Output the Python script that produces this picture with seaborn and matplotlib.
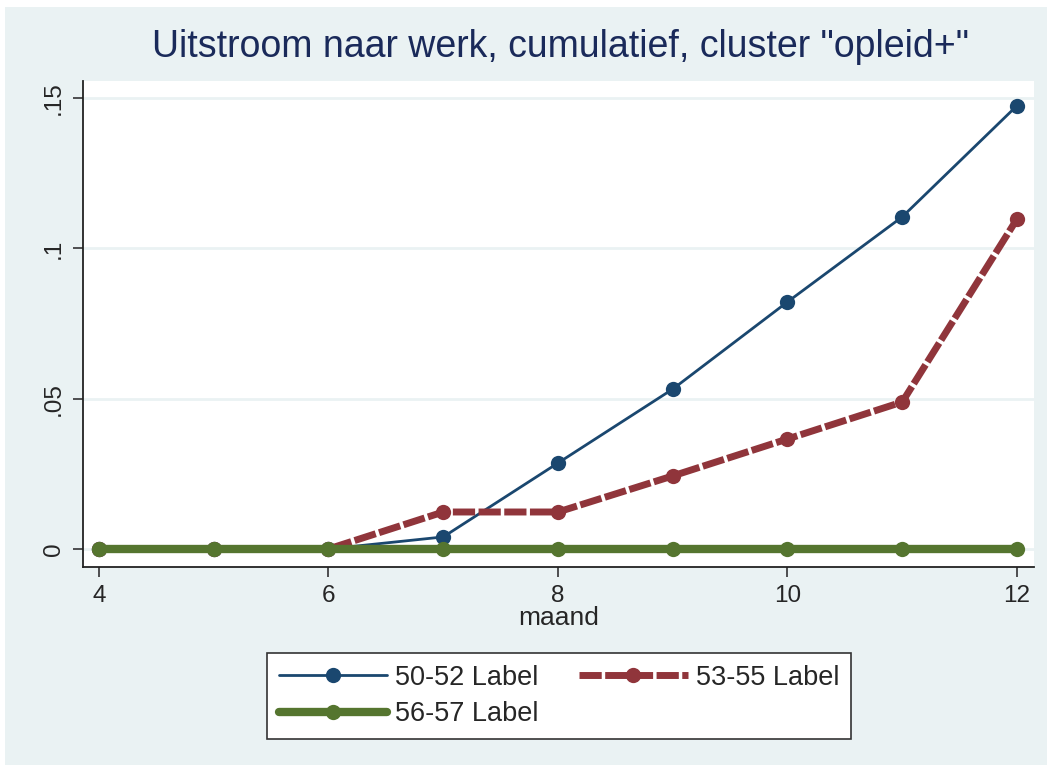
import numpy as np
import pandas as pd
import seaborn as sns
import matplotlib.pyplot as plt
from matplotlib.patches import Rectangle

# data
maand = [4, 5, 6, 7, 8, 9, 10, 11, 12]
s_50_52 = [0, 0, 0, 0.004, 0.0286, 0.0532, 0.0822, 0.1105, 0.1475]
s_53_55 = [0, 0, 0, 0.0123, 0.0123, 0.0243, 0.0366, 0.0489, 0.1098]
s_56_57 = [0, 0, 0, 0, 0, 0, 0, 0, 0]
labels = ["50-52 Label", "53-55 Label", "56-57 Label"]

sns.set_style("white")
plt.rcParams['font.family'] = ['Liberation Sans', 'DejaVu Sans']

bg = "#EAF2F3"
fig = plt.figure(figsize=(10.52, 7.71), dpi=100, facecolor="white")
fig.patches.append(Rectangle((5/1052, 1-765/771), 1042/1052, 758/771,
                             transform=fig.transFigure, facecolor=bg,
                             edgecolor="none", zorder=-1))
ax = fig.add_axes([83/1052, 1-567/771, 951/1052, 486/771])
ax.set_facecolor("white")

df = pd.DataFrame({"maand": maand, "a": s_50_52, "b": s_53_55, "c": s_56_57})

# drawn in stata order, last series on top
sns.lineplot(data=df, x="maand", y="a", ax=ax, color="#1A476F", lw=2,
             marker="o", markersize=11, markeredgewidth=0, label=labels[0], zorder=2)
sns.lineplot(data=df, x="maand", y="b", ax=ax, color="#90353B", lw=5,
             marker="o", markersize=11, markeredgewidth=0, label=labels[1], zorder=3)
sns.lineplot(data=df, x="maand", y="c", ax=ax, color="#55752F", lw=6,
             marker="o", markersize=11, markeredgewidth=0, label=labels[2], zorder=4)
ax.lines[1].set_dashes([3.2, 0.5])

ax.set_xlim(3.861, 12.148)
ax.set_ylim(-0.006, 0.1557)
ax.set_xticks([4, 6, 8, 10, 12])
ax.set_yticks([0, 0.05, 0.1, 0.15])
ax.set_yticklabels(["0", ".05", ".1", ".15"], rotation=90, va="center")
ax.grid(axis="y", color=bg, lw=2)
ax.set_axisbelow(True)
ax.tick_params(axis="both", direction="out", length=7, width=1.2, color="#333333",
               labelsize=17.5, pad=6, left=True, bottom=True)
for s in ["top", "right"]:
    ax.spines[s].set_visible(False)
for s in ["left", "bottom"]:
    ax.spines[s].set_color("#222222")
    ax.spines[s].set_linewidth(1.3)

ax.set_xlabel("maand", fontsize=19, labelpad=-1)
ax.set_ylabel("")
fig.text(0.533, 1-47/771, 'Uitstroom naar werk, cumulatief, cluster "opleid+"',
         ha="center", va="center", fontsize=27, color="#1A2A5A")

h, l = ax.get_legend_handles_labels()
order = [0, 2, 1]
leg = ax.legend([h[i] for i in order], [l[i] for i in order], ncol=2,
                loc="center", bbox_to_anchor=(559/1052, 1-696/771),
                bbox_transform=fig.transFigure, fontsize=19.5, frameon=True,
                fancybox=False, edgecolor="#333333", facecolor="white",
                framealpha=1, handlelength=4, columnspacing=1.5,
                borderpad=0.45, handletextpad=0.3, labelspacing=0.38)
leg.get_frame().set_linewidth(1.2)

fig.savefig("out.png", dpi=100, facecolor="white")
